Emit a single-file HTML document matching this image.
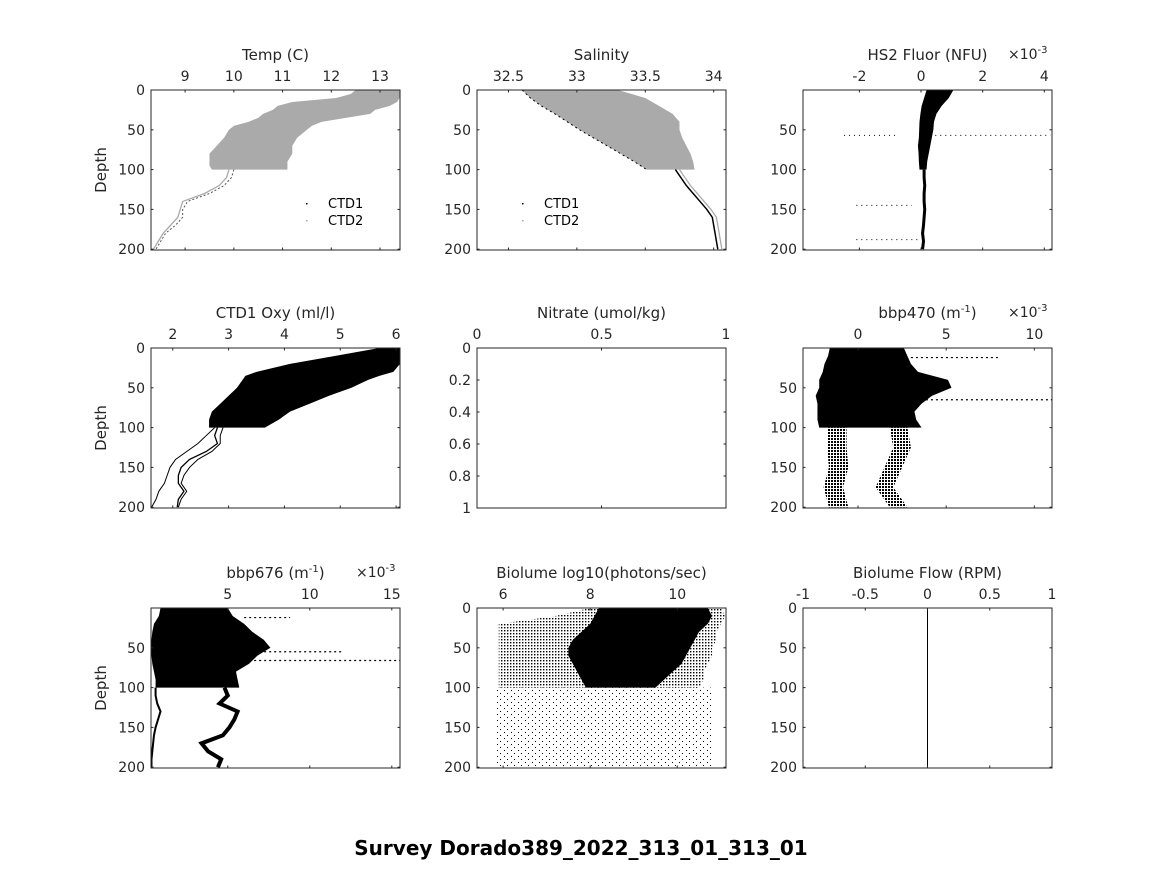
<!DOCTYPE html>
<html><head><meta charset="utf-8"><style>
body{margin:0;background:#fff;}
svg text{font-family:"DejaVu Sans","Liberation Sans",sans-serif;fill:#262626;}
</style></head><body>
<svg id="fig" width="1164" height="864" xmlns="http://www.w3.org/2000/svg">
<defs>
<pattern id="dense" width="3" height="3" patternUnits="userSpaceOnUse"><rect width="2" height="2" fill="#000"/></pattern>
<pattern id="mid" width="3" height="3" patternUnits="userSpaceOnUse"><rect width="1.4" height="1.4" fill="#000"/></pattern>
<pattern id="sparse" width="7" height="6" patternUnits="userSpaceOnUse"><rect width="1" height="1" fill="#000"/><rect x="3" y="3" width="1" height="1" fill="#000"/></pattern>
</defs>
<text x="581" y="855" text-anchor="middle" font-size="20" font-weight="bold" style="fill:#000">Survey Dorado389_2022_313_01_313_01</text>
</svg>
<script>
// ---- data arrays ----
const tempDepth=[0,5,10,15,20,25,30,35,40,45,50,60,70,80,90,95,100];
const tempLo=[12.5,12.4,12.1,11.2,10.9,10.8,10.6,10.5,10.3,10.0,9.9,9.8,9.65,9.5,9.5,9.5,9.55];
const tempHi=[13.4,13.4,13.4,13.35,13.2,12.9,12.8,12.3,11.8,11.6,11.5,11.3,11.2,11.2,11.1,11.1,11.1];
const deepDepth=[100,110,120,130,140,150,160,170,180,190,200];
const tempDeepA=[9.9,9.85,9.7,9.4,8.95,8.9,8.85,8.7,8.55,8.45,8.35];
const tempDeepB=[10.0,9.95,9.8,9.5,9.05,8.95,8.95,8.8,8.6,8.5,8.4];
const salDepth=[0,10,20,30,40,50,60,70,80,90,100];
const salLo=[32.6,32.66,32.74,32.84,32.93,33.02,33.12,33.22,33.32,33.42,33.51];
const salHi=[33.3,33.5,33.6,33.7,33.75,33.75,33.77,33.8,33.83,33.85,33.86];
const salDeep=[33.72,33.76,33.8,33.85,33.9,33.95,33.99,34.0,34.01,34.02,34.03];
const fluDepth=[0,10,20,30,40,50,60,70,80,90,100];
const fluLo=[0.18,0.1,0.02,-0.02,-0.05,-0.06,-0.07,-0.1,-0.08,-0.07,-0.05];
const fluHi=[1.05,0.9,0.67,0.5,0.42,0.4,0.35,0.3,0.25,0.2,0.18];
const fluDeep=[0.1,0.1,0.12,0.1,0.1,0.12,0.1,0.08,0.05,0.08,0.05];
const fluStreakDepth=[57,57,145,188];
const fluStreakFrom=[-2.5,0.3,-2.1,-2.1];
const fluStreakTo=[-0.8,4.2,-0.3,0.0];
const oxyDepth=[0,10,20,30,35,40,50,60,70,80,90,100];
const oxyLo=[5.7,4.9,4.1,3.5,3.3,3.25,3.15,3.0,2.85,2.7,2.65,2.65];
const oxyHi=[6.07,6.07,6.07,5.95,5.7,5.5,5.2,4.8,4.45,4.1,3.9,3.65];
const oxyDeepA=[2.75,2.6,2.45,2.25,2.05,1.95,1.9,1.85,1.75,1.7,1.62];
const oxyDeepB=[2.8,2.75,2.8,2.6,2.3,2.15,2.1,2.1,2.2,2.1,2.08];
const oxyDeepC=[2.9,2.85,2.85,2.7,2.45,2.3,2.2,2.15,2.25,2.15,2.1];
const b470Depth=[0,10,20,30,40,50,60,70,80,90,100];
const b470Lo=[-1.6,-1.7,-1.9,-2.0,-2.2,-2.2,-2.4,-2.3,-2.3,-2.3,-2.2];
const b470Hi=[2.6,2.8,3.0,3.4,5.1,5.3,4.2,3.6,3.2,3.3,3.6];
const b470BandDepth=[100,125,150,175,200];
const b470BandA=[-1.2,-1.2,-1.1,-1.4,-1.1];
const b470BandB=[2.3,2.5,2.0,1.5,2.3];
const b470SpikeDepth=[12,65];
const b470SpikeTo=[8.0,11.0];
const b676Depth=[0,10,20,30,40,50,60,70,80,90,100];
const b676Lo=[0.9,0.8,0.5,0.4,0.35,0.35,0.35,0.4,0.5,0.6,0.6];
const b676Hi=[5.0,5.3,6.0,6.5,7.2,7.6,6.8,6.3,5.5,5.6,5.7];
const b676DeepL=[0.6,0.6,0.7,0.9,0.75,0.6,0.5,0.45,0.4,0.35,0.35];
const b676DeepR=[4.8,5.0,4.5,5.6,5.4,5.1,4.7,3.4,3.8,4.6,4.4];
const b676SpikeDepth=[12,55,66];
const b676SpikeTo=[8.8,12.0,15.5];
const bioDepth=[0,10,20,30,40,50,60,70,80,90,100];
const bioLo=[8.2,8.1,8.0,7.8,7.6,7.5,7.5,7.6,7.7,7.8,7.9];
const bioHi=[10.7,10.8,10.7,10.5,10.4,10.3,10.2,10.1,9.9,9.7,9.5];
const bioMidLo=[8.0,7.2,5.9,5.9,5.9,5.9,5.9,5.9,5.9,5.9,5.9];
const bioMidHi=[11.0,11.1,11.0,10.9,10.9,10.8,10.8,10.7,10.6,10.6,10.5];
const flowValue=[0,0];
const flowDepth=[0,201];

const svg=document.getElementById('fig');
const NS='http://www.w3.org/2000/svg';
function el(tag,attrs,parent){const e=document.createElementNS(NS,tag);for(const k in attrs)e.setAttribute(k,attrs[k]);(parent||svg).appendChild(e);return e;}

function panel(cfg){
  const g=el('g',{});
  
  
  const L=cfg.x,T=cfg.y,W=249,H=160;
  const sx=v=>L+(v-cfg.xmin)/(cfg.xmax-cfg.xmin)*W;
  const sy=v=>T+(v-cfg.ymin)/(cfg.ymax-cfg.ymin)*H;
  const plot=el('g',{'clip-path':'url(#c_'+cfg.name+')'},g);
  const cp=el('clipPath',{id:'c_'+cfg.name},g);
  el('rect',{x:L,y:T,width:W,height:H},cp);
  cfg.draw&&cfg.draw(plot,sx,sy);
  el('rect',{x:L,y:T,width:W,height:H,fill:'none',stroke:'#262626','stroke-width':1},g);
  cfg.xt.forEach(t=>{const x=sx(t);
    el('line',{x1:x,y1:T,x2:x,y2:T+2.5,stroke:'#262626'},g);
    el('line',{x1:x,y1:T+H,x2:x,y2:T+H-2.5,stroke:'#262626'},g);
    const tx=el('text',{x:x,y:T-9,'text-anchor':'middle','font-size':14},g);
    
    
    tx.textContent=String(t);
  });
  cfg.yt.forEach(t=>{const y=sy(t);
    el('line',{x1:L,y1:y,x2:L+2.5,y2:y,stroke:'#262626'},g);
    el('line',{x1:L+W,y1:y,x2:L+W-2.5,y2:y,stroke:'#262626'},g);
    const tx=el('text',{x:L-6,y:y+5,'text-anchor':'end','font-size':14},g);
    
    
    tx.textContent=String(t);
  });
  const ti=el('text',{x:L+W/2,y:T-30,'text-anchor':'middle','font-size':15},g);
  
  
  ti.innerHTML=cfg.title;
  if(cfg.exp){const e=el('text',{x:L+W-44,y:T-31,'font-size':14},g);
    
    
    e.innerHTML='\u00d710<tspan dy="-6" font-size="10">-3</tspan>';}
  if(cfg.ylabel){const d=el('text',{x:0,y:0,'text-anchor':'middle','font-size':15,transform:'translate('+(L-45)+','+(T+H/2)+') rotate(-90)'},g);
    
    
    d.textContent='Depth';}
  return g;
}
function env(p,sx,sy,dep,lo,hi,fill,name){
  const pts=dep.map((d,i)=>sx(lo[i])+','+sy(d)).concat(dep.map((d,i)=>sx(hi[i])+','+sy(d)).reverse());
  const e=el('polygon',{points:pts.join(' '),fill:fill},p);
  
  
  return e;
}
function line(p,sx,sy,dep,vals,stroke,w,name,dash){
  const e=el('polyline',{points:dep.map((d,i)=>sx(vals[i])+','+sy(d)).join(' '),fill:'none',stroke:stroke,'stroke-width':w},p);
  if(dash)e.setAttribute('stroke-dasharray',dash);
  
  
  return e;
}
function legend(p,x,y){
  [['CTD1','#000'],['CTD2','#aaa']].forEach((l,i)=>{
    const d=el('rect',{x:x-22,y:y+i*17-5,width:1.5,height:1.5,fill:l[1]},p);
    
    
    const t=el('text',{x:x,y:y+i*17,'font-size':13,style:'fill:#000'},p);
    
    
    t.textContent=l[0];
  });
}
const depthT=[0,50,100,150,200],depthT2=[50,100,150,200];
const r1=90,r2=348,r3=608,c1=151,c2=477,c3=803;

legend(panel({name:'temp-panel',x:c1,y:r1,xmin:8.3,xmax:13.41,ymin:0,ymax:201,xt:[9,10,11,12,13],yt:depthT,title:'Temp (C)',ylabel:true,
 draw:(p,sx,sy)=>{env(p,sx,sy,tempDepth,tempLo,tempHi,'#aaa','temp-cloud');
  line(p,sx,sy,deepDepth,tempDeepA,'#aaa',1.3,'temp-deep-ctd2');line(p,sx,sy,deepDepth,tempDeepB,'#555',1,'temp-deep-ctd1','2 2');}}),328,208);

legend(panel({name:'salinity-panel',x:c2,y:r1,xmin:32.27,xmax:34.09,ymin:0,ymax:201,xt:[32.5,33,33.5,34],yt:depthT,title:'Salinity',
 draw:(p,sx,sy)=>{env(p,sx,sy,salDepth,salLo,salHi,'#aaa','salinity-cloud');
  line(p,sx,sy,salDepth,salLo,'#000',1,'salinity-ctd1-edge','2 3');
  line(p,sx,sy,deepDepth,salDeep,'#000',1.5,'salinity-deep-ctd1');line(p,sx,sy,deepDepth,salDeep.map(v=>v+0.03),'#aaa',1.3,'salinity-deep-ctd2');}}),544,208);

panel({name:'fluor-panel',x:c3,y:r1,xmin:-3.83,xmax:4.25,ymin:0,ymax:201,xt:[-2,0,2,4],yt:depthT2,title:'HS2 Fluor (NFU)',exp:true,
 draw:(p,sx,sy)=>{env(p,sx,sy,fluDepth,fluLo,fluHi,'#000','fluor-cloud');
  line(p,sx,sy,deepDepth,fluDeep,'#000',3,'fluor-deep');
  fluStreakDepth.forEach((d,i)=>line(p,sx,sy,[d,d],[fluStreakFrom[i],fluStreakTo[i]],'#000',1,'fluor-streak','1 4'));}});

panel({name:'oxygen-panel',x:c1,y:r2,xmin:1.61,xmax:6.07,ymin:0,ymax:201,xt:[2,3,4,5,6],yt:depthT,title:'CTD1 Oxy (ml/l)',ylabel:true,
 draw:(p,sx,sy)=>{env(p,sx,sy,oxyDepth,oxyLo,oxyHi,'#000','oxygen-cloud');
  line(p,sx,sy,deepDepth,oxyDeepA,'#000',1,'oxygen-deep-a');line(p,sx,sy,deepDepth,oxyDeepB,'#000',1.3,'oxygen-deep-b');line(p,sx,sy,deepDepth,oxyDeepC,'#000',1,'oxygen-deep-c');}});

panel({name:'nitrate-panel',x:c2,y:r2,xmin:0,xmax:1,ymin:0,ymax:1,xt:[0,0.5,1],yt:[0,0.2,0.4,0.6,0.8,1],title:'Nitrate (umol/kg)'});

panel({name:'bbp470-panel',x:c3,y:r2,xmin:-3.12,xmax:11.0,ymin:0,ymax:201,xt:[0,5,10],yt:depthT2,title:'bbp470 (m<tspan dy="-6" font-size="10">-1</tspan><tspan dy="6">)</tspan>',exp:true,
 draw:(p,sx,sy)=>{env(p,sx,sy,b470Depth,b470Lo,b470Hi,'#000','bbp470-cloud');
  env(p,sx,sy,b470BandDepth,b470BandA.map(v=>v-0.55),b470BandA.map(v=>v+0.55),'url(#dense)','bbp470-band-a');
  env(p,sx,sy,b470BandDepth,b470BandB.map(v=>v-0.5),b470BandB.map(v=>v+0.5),'url(#dense)','bbp470-band-b');
  b470SpikeDepth.forEach((d,i)=>line(p,sx,sy,[d,d],[3,b470SpikeTo[i]],'#000',1.2,'bbp470-spike','2 3'));}});

panel({name:'bbp676-panel',x:c1,y:r3,xmin:0.32,xmax:15.5,ymin:0,ymax:201,xt:[5,10,15],yt:depthT2,title:'bbp676 (m<tspan dy="-6" font-size="10">-1</tspan><tspan dy="6">)</tspan>',exp:true,ylabel:true,
 draw:(p,sx,sy)=>{env(p,sx,sy,b676Depth,b676Lo,b676Hi,'#000','bbp676-cloud');
  line(p,sx,sy,deepDepth,b676DeepL,'#000',2,'bbp676-deep-left');
  line(p,sx,sy,deepDepth,b676DeepR,'#000',4,'bbp676-deep-right');
  b676SpikeDepth.forEach((d,i)=>line(p,sx,sy,[d,d],[6,b676SpikeTo[i]],'#000',1.2,'bbp676-spike','2 3'));}});

panel({name:'biolume-panel',x:c2,y:r3,xmin:5.4,xmax:11.12,ymin:0,ymax:201,xt:[6,8,10],yt:depthT,title:'Biolume log10(photons/sec)',
 draw:(p,sx,sy)=>{env(p,sx,sy,bioDepth,bioMidLo,bioMidHi,'url(#mid)','biolume-mid-cloud');
  env(p,sx,sy,deepDepth,deepDepth.map(()=>5.8),deepDepth.map(()=>10.8),'url(#sparse)','biolume-deep-cloud');
  env(p,sx,sy,bioDepth,bioLo,bioHi,'#000','biolume-dense-cloud');}});

panel({name:'flow-panel',x:c3,y:r3,xmin:-1,xmax:1,ymin:0,ymax:201,xt:[-1,-0.5,0,0.5,1],yt:depthT,title:'Biolume Flow (RPM)',
 draw:(p,sx,sy)=>{line(p,sx,sy,flowDepth,flowValue,'#000',1,'flow-line');}});
</script>
</body></html>
